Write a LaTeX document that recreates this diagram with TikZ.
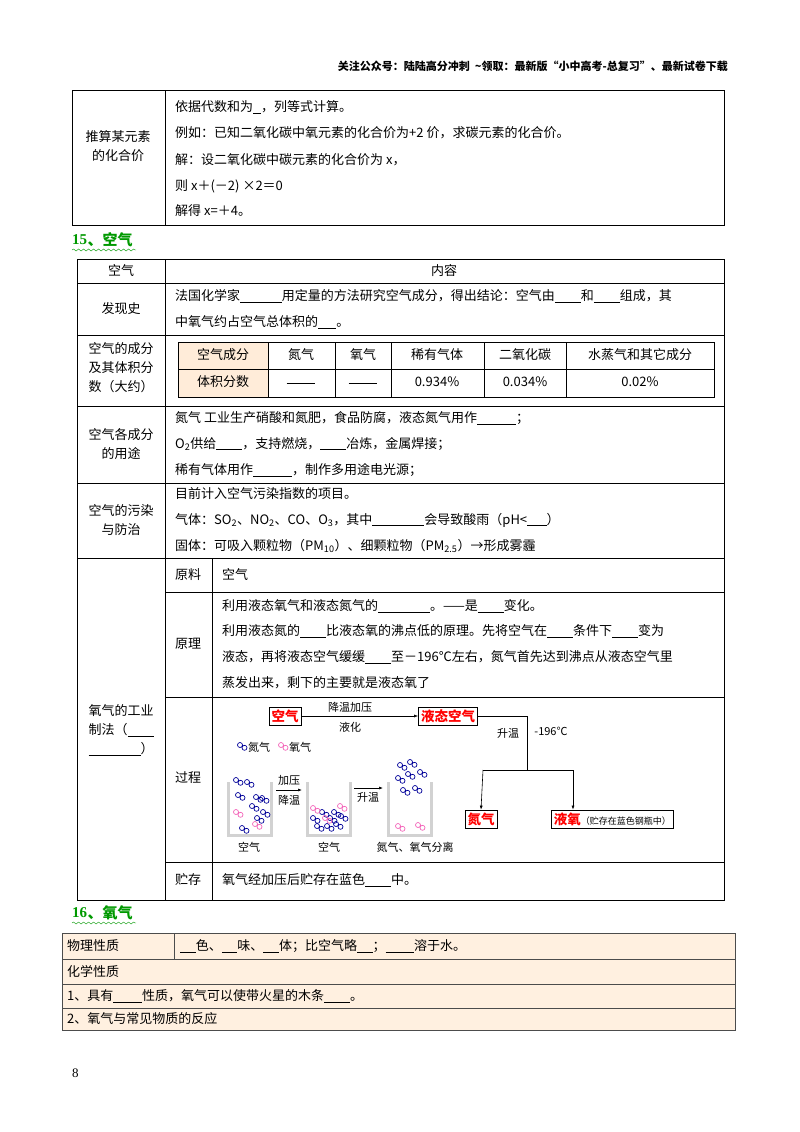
\documentclass[tikz,border=0pt]{standalone}
\usepackage{fontspec}
\setmainfont{Noto Sans CJK SC}
\newfontfamily\serifl{Liberation Serif}
\usetikzlibrary{arrows.meta,decorations.pathmorphing}
\newcommand{\blk}[1]{\underline{\hspace{#1}}}
\tikzset{
  t/.style={anchor=west,inner sep=0pt,font=\fontsize{13}{15}\selectfont},
  tc/.style={anchor=center,inner sep=0pt,font=\fontsize{13}{15}\selectfont,align=center},
  ln/.style={line width=0.6pt},
  rbox/.style={draw,line width=0.8pt,inner sep=2.5pt,text=red,font=\fontsize{13.5}{15}\selectfont\bfseries},
  small/.style={inner sep=0pt,font=\fontsize{11}{12}\selectfont},
  ar/.style={-{Latex[length=4pt]},line width=0.6pt},
  sec/.style={anchor=west,inner sep=0pt,text=green!60!black,font=\fontsize{15}{17}\selectfont\bfseries},
  bk/.style={line width=3pt,gray!35}
}
\newcommand{\mol}[3]{\draw[#3,line width=0.7pt] (#1,#2) circle (2.5) (#1+4.5,#2+2.8) circle (2.5);}
\begin{document}
\begin{tikzpicture}[x=1pt,y=-1pt]
\useasboundingbox[fill=white] (0,0) rectangle (800,1132);
\node[anchor=east,inner sep=0pt,font=\fontsize{11}{13}\selectfont\bfseries] (hd) at (728,66) {关注公众号：陆陆高分冲刺\ \ \textasciitilde 领取：最新版“小中高考-总复习”、最新试卷下载};
% table 1
\draw[ln] (72,90) rectangle (724,225) (165,90) -- (165,225);
\node[tc] (a1) at (118,146) {推算某元素\\[4pt]的化合价};
\node[t] (b1) at (175,107) {依据代数和为\blk{0.6em}，列等式计算。};
\node[t] (b2) at (175,133) {例如：已知二氧化碳中氧元素的化合价为+2 价，求碳元素的化合价。};
\node[t] (b3) at (175,160) {解：设二氧化碳中碳元素的化合价为 x，};
\node[t] (b4) at (175,186) {则 x＋(－2) ×2＝0};
\node[t] (b5) at (175,211) {解得 x=＋4。};
% section 15
\node[sec] (s15) at (72,240) {\serifl 15}; \node[sec] (s15b) at (s15.east) [anchor=west] {、空气};
\draw[green!60!black,decorate,decoration={snake,amplitude=1pt,segment length=5pt}] (72,250) -- (136,250);
% table 2
\draw[ln] (77,259) rectangle (724,900);
\draw[ln] (165,259) -- (165,900) (212,558) -- (212,900);
\foreach \y in {283,335,406,483,558} \draw[ln] (77,\y) -- (724,\y);
\foreach \y in {592,697,862} \draw[ln] (165,\y) -- (724,\y);
\node[tc] (h1) at (121,271) {空气}; \node[tc] (h2) at (444,271) {内容};
\node[tc] (r1) at (121,309) {发现史};
\node[t] (r1a) at (175,296) {法国化学家\blk{3.2em}用定量的方法研究空气成分，得出结论：空气由\blk{2em}和\blk{2em}组成，其};
\node[t] (r1b) at (175,322) {中氧气约占空气总体积的\blk{1.4em}。};
\node[tc] (r2) at (121,368) {空气的成分\\[4pt]及其体积分\\[4pt]数（大约）};
\fill[orange!15] (178,342) rectangle (268,397);
\draw[ln] (178,342) rectangle (714,397) (178,369) -- (714,369);
\foreach \x in {268,335,391,484,566} \draw[ln] (\x,342) -- (\x,397);
\node[tc] (c1) at (223,355) {空气成分}; \node[tc] (c2) at (301,355) {氮气}; \node[tc] (c3) at (363,355) {氧气};
\node[tc] (c4) at (437,355) {稀有气体}; \node[tc] (c5) at (525,355) {二氧化碳}; \node[tc] (c6) at (640,355) {水蒸气和其它成分};
\node[tc] (d1) at (223,382) {体积分数}; \node[tc] (d2) at (301,383) {\blk{2.2em}}; \node[tc] (d3) at (363,383) {\blk{2.2em}};
\node[tc] (d4) at (437,382) {0.934\%}; \node[tc] (d5) at (525,382) {0.034\%}; \node[tc] (d6) at (640,382) {0.02\%};
\node[tc] (r3) at (121,444) {空气各成分\\[4pt]的用途};
\node[t] (r3a) at (175,418) {氮气 工业生产硝酸和氮肥，食品防腐，液态氮气用作\blk{3em}；};
\node[t] (r3b) at (175,444) {O\textsubscript{2}供给\blk{2em}，支持燃烧，\blk{2em}冶炼，金属焊接；};
\node[t] (r3c) at (175,470) {稀有气体用作\blk{3em}，制作多用途电光源；};
\node[tc] (r4) at (121,520) {空气的污染\\[4pt]与防治};
\node[t] (r4a) at (175,494) {目前计入空气污染指数的项目。};
\node[t] (r4b) at (175,520) {气体：SO\textsubscript{2}、NO\textsubscript{2}、CO、O\textsubscript{3}，其中\blk{4em}会导致酸雨（pH<\blk{1.5em}）};
\node[t] (r4c) at (175,546) {固体：可吸入颗粒物（PM\textsubscript{10}）、细颗粒物（PM\textsubscript{2.5}）→形成雾霾};
\node[tc] (r5) at (121,730) {氧气的工业\\[4pt]制法（\blk{2em}\\[4pt]\blk{4em}）};
\node[tc] (p1) at (188,575) {原料}; \node[t] (p1a) at (222,575) {空气};
\node[tc] (p2) at (188,644) {原理};
\node[t] (p2a) at (222,606) {利用液态氧气和液态氮气的\blk{4em}。——是\blk{2em}变化。};
\node[t] (p2b) at (222,631) {利用液态氮的\blk{2em}比液态氧的沸点低的原理。先将空气在\blk{2em}条件下\blk{2em}变为};
\node[t] (p2c) at (222,657) {液态，再将液态空气缓缓\blk{2em}至－196℃左右，氮气首先达到沸点从液态空气里};
\node[t] (p2d) at (222,683) {蒸发出来，剩下的主要就是液态氧了};
\node[tc] (p3) at (188,778) {过程};
\node[tc] (p4) at (188,880) {贮存}; \node[t] (p4a) at (222,880) {氧气经加压后贮存在蓝色\blk{2em}中。};
% process diagram
\node[rbox] (k1) at (285,716) {空气};
\node[rbox] (k2) at (448,716) {液态空气};
\draw[ar] (k1) -- (k2);
\node[small] (l1) at (350,707) {降温加压}; \node[small] (l2) at (350,727) {液化};
\coordinate (j1) at (527,716); \coordinate (j2) at (527,770);
\coordinate (j3) at (483,770); \coordinate (j4) at (573,770);
\node[rbox] (k3) at (481,819) {氮气};
\node[rbox,anchor=west] (k4) at (551,819) {液氧{\fontsize{9}{10}\selectfont\mdseries\color{black}（贮存在蓝色钢瓶中）}};
\draw[line width=0.6pt] (k2.east) -- (j1) -- (j2) (j3) -- (j4);
\draw[ar] (j3) -- (k3.north); \draw[ar] (j4) -- (j4|-k4.north);
\node[small] (l3) at (508,733) {升温}; \node[small] (l4) at (551,731) {-196℃};
% legend
\mol{240}{745}{blue!60!black}\node[small,anchor=west] (lg1) at (248,747) {氮气};
\mol{281}{745}{magenta!60}\node[small,anchor=west] (lg2) at (289,747) {氧气};
% beakers
\draw[bk] (228,782) -- (228,835) -- (271,835) -- (271,782);
\draw[bk] (307,782) -- (307,835) -- (350,835) -- (350,782);
\draw[bk] (388,782) -- (388,835) -- (431,835) -- (431,782);
\node[small] (g1) at (249,847) {空气}; \node[small] (g2) at (329,847) {空气}; \node[small] (g3) at (415,847) {氮气、氧气分离};
\node[small] (g4) at (289,780) {加压}; \node[small] (g5) at (289,800) {降温};
\draw[ar] (276,790) -- (302,790);
\node[small] (g6) at (368,797) {升温};
\draw[ar] (354,788) -- (383,788);
\foreach \x/\y in {236/780,247/782,238/795,256/797,252/806,262/798,257/818,242/828,263/812} {\mol{\x}{\y}{blue!60!black}}
\foreach \x/\y in {236/812,255/824} {\mol{\x}{\y}{magenta!60}}
\foreach \x/\y in {313/818,322/812,334/812,341/816,317/826,327/826,336/824,330/818} {\mol{\x}{\y}{blue!60!black}}
\foreach \x/\y in {313/808,325/818,340/806} {\mol{\x}{\y}{magenta!60}}
\foreach \x/\y in {400/765,410/762,398/778,408/774,420/772,415/788,403/790} {\mol{\x}{\y}{blue!60!black}}
\foreach \x/\y in {398/826,418/825} {\mol{\x}{\y}{magenta!60}}
% section 16
\node[sec] (s16) at (72,913) {\serifl 16}; \node[sec] (s16b) at (s16.east) [anchor=west] {、氧气};
\draw[green!60!black,decorate,decoration={snake,amplitude=1pt,segment length=5pt}] (72,923) -- (136,923);
\fill[orange!12] (62,933) rectangle (735,1030);
\draw[line width=0.9pt,black!70] (62,933) rectangle (735,1030) (174,933) -- (174,959);
\foreach \y in {959,984,1008} \draw[line width=0.9pt,black!70] (62,\y) -- (735,\y);
\node[t] (o1) at (67,946) {物理性质};
\node[t] (o2) at (180,946) {\blk{1.2em}色、\blk{1.2em}味、\blk{1.2em}体；比空气略\blk{1.2em}；\blk{2.2em}溶于水。};
\node[t] (o3) at (67,971) {化学性质};
\node[t] (o4) at (67,996) {1、具有\blk{2.2em}性质，氧气可以使带火星的木条\blk{2em}。};
\node[t] (o5) at (67,1019) {2、氧气与常见物质的反应};
\node[t] (pg) at (72,1073) {\serifl 8};
\end{tikzpicture}
\end{document}
